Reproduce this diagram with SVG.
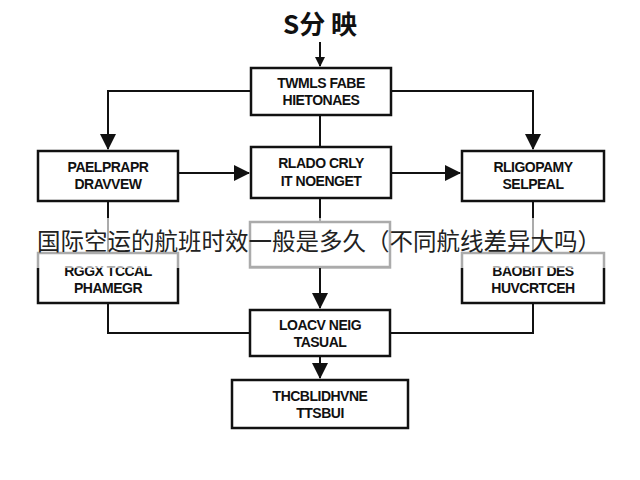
<svg xmlns="http://www.w3.org/2000/svg" width="640" height="480" viewBox="0 0 640 480">
<defs>
<marker id="ah" markerWidth="10" markerHeight="10" refX="9" refY="5" orient="auto" markerUnits="userSpaceOnUse"><path d="M0,0 L10,5 L0,10 z" fill="#111"/></marker>
<marker id="ahb" markerWidth="16" markerHeight="16" refX="15" refY="8" orient="auto" markerUnits="userSpaceOnUse"><path d="M0,0 L16,8 L0,16 z" fill="#111"/></marker>
</defs>
<style>
.b{fill:#fff;stroke:#111;stroke-width:2.5}
.t{font-family:"Liberation Sans",Arial,sans-serif;font-size:14px;font-weight:bold;fill:#111;text-anchor:middle;letter-spacing:-0.5px}
.c{fill:none;stroke:#111;stroke-width:2}
</style>
<rect width="640" height="480" fill="#fff"/>
<text x="320" y="34" font-family="'Noto Sans CJK SC',sans-serif" font-size="26" font-weight="bold" text-anchor="middle" fill="#111">S分 映</text>
<g id="connectors">
<path class="c" d="M320,42 V66" marker-end="url(#ah)"/>
<path class="c" d="M251,91 H108 V149" marker-end="url(#ahb)"/>
<path class="c" d="M391,91 H533 V149" marker-end="url(#ahb)"/>
<path class="c" d="M320,115 V147"/>
<path class="c" d="M178,173 H249" marker-end="url(#ahb)"/>
<path class="c" d="M391,173 H460" marker-end="url(#ahb)"/>
<path class="c" d="M108,201 V253"/>
<path class="c" d="M533,201 V253"/>
<path class="c" d="M320,198 V222"/>
<path class="c" d="M320,267 V308" marker-end="url(#ahb)"/>
<path class="c" d="M108,303 V333 H250"/>
<path class="c" d="M533,303 V333 H390"/>
<path class="c" d="M320,356 V378" marker-end="url(#ahb)"/>
</g>
<g id="n1"><rect class="b" x="251" y="68" width="140" height="47"/><text class="t" x="321" y="88">TWMLS FABE</text><text class="t" x="321" y="105">HIETONAES</text></g>
<g id="n2"><rect class="b" x="251" y="147" width="140" height="51"/><text class="t" x="321" y="168">RLADO CRLY</text><text class="t" x="321" y="186">IT NOENGET</text></g>
<g id="n3"><rect class="b" x="38" y="151" width="140" height="50"/><text class="t" x="108" y="172">PAELPRAPR</text><text class="t" x="108" y="189">DRAVVEW</text></g>
<g id="n4"><rect class="b" x="462" y="151" width="142" height="50"/><text class="t" x="533" y="172">RLIGOPAMY</text><text class="t" x="533" y="189">SELPEAL</text></g>
<g id="n5"><rect class="b" x="250" y="222" width="140" height="45"/></g>
<g id="n6"><rect class="b" x="38" y="253" width="140" height="50"/><text class="t" x="108" y="276">RGGX TCCAL</text><text class="t" x="108" y="293">PHAMEGR</text></g>
<g id="n7"><rect class="b" x="462" y="253" width="142" height="50"/><text class="t" x="533" y="276">BAOBIT DES</text><text class="t" x="533" y="293">HUVCRTCEH</text></g>
<g id="n8"><rect class="b" x="250" y="310" width="140" height="46"/><text class="t" x="320" y="330">LOACV NEIG</text><text class="t" x="320" y="347">TASUAL</text></g>
<g id="n9"><rect class="b" x="232" y="380" width="176" height="48"/><text class="t" x="320" y="401">THCBLIDHVNE</text><text class="t" x="320" y="418">TTSBUI</text></g>
<rect x="0" y="218" width="640" height="50" fill="#fff" opacity="0.65"/>
<text x="319" y="250" font-family="'Noto Sans CJK SC',sans-serif" font-size="23.5" text-anchor="middle" fill="#222">国际空运的航班时效一般是多久（不同航线差异大吗）</text>
</svg>
